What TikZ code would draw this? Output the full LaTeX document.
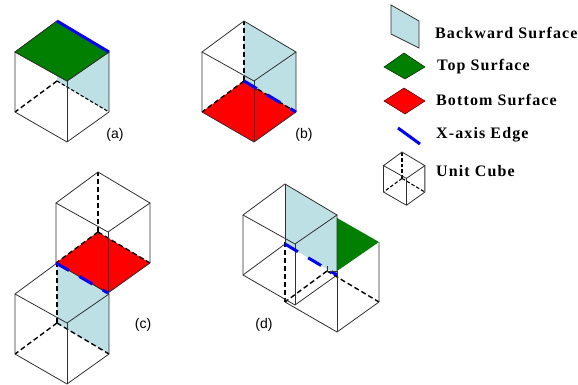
\documentclass[tikz,border=0pt]{standalone}
\usepackage{fontspec}
\setmainfont{Liberation Serif}
\newfontfamily\labelfont{Liberation Sans}
\newfontfamily\legfont[LetterSpace=7]{Liberation Serif}
\usetikzlibrary{positioning,calc}
\definecolor{backc}{HTML}{BCE0E4}
\definecolor{topc}{HTML}{007F00}
\definecolor{botc}{HTML}{FF0000}
\definecolor{edgec}{HTML}{0000FF}
\definecolor{wirec}{HTML}{303030}
\tikzset{
  wire/.style={draw=wirec, line width=0.8pt},
  hidden/.style={draw=black, line width=1.4pt, dash pattern=on 5pt off 3pt},
  smallhidden/.style={draw=black, line width=1.1pt, dash pattern=on 3.5pt off 2pt},
  backface/.style={fill=backc},
  topface/.style={fill=topc},
  botface/.style={fill=botc},
  xedge/.style={draw=edgec, line width=3pt},
  xdash/.style={xedge, dash pattern=on 15pt off 12pt},
  legtext/.style={font=\legfont\bfseries\fontsize{16}{18}\selectfont, anchor=west, inner sep=0pt},
  caselabel/.style={font=\labelfont\fontsize{14}{16}\selectfont, inner sep=0pt},
}
% corners of a cube: back top, left/right/front top, back, left/right/front bottom
\newcommand{\placecube}[4]{%
  \coordinate (#1bt) at ({#2},{#3});
  \coordinate (#1lt) at ({#2-42*#4},{#3+31*#4});
  \coordinate (#1rt) at ({#2+52*#4},{#3+31*#4});
  \coordinate (#1ft) at ({#2+10*#4},{#3+60*#4});
  \coordinate (#1bb) at ({#2},{#3+60*#4});
  \coordinate (#1lb) at ({#2-42*#4},{#3+91*#4});
  \coordinate (#1rb) at ({#2+52*#4},{#3+91*#4});
  \coordinate (#1fb) at ({#2+10*#4},{#3+121*#4});
}
\newcommand{\solidwire}[1]{%
  \draw[wire] (#1bt) -- (#1lt) -- (#1ft) -- (#1rt) -- (#1bt);
  \draw[wire] (#1lt) -- (#1lb) -- (#1fb) -- (#1rb) -- (#1rt);
  \draw[wire] (#1ft) -- (#1fb);
}
\newcommand{\hiddenwire}[1]{%
  \draw[hidden] (#1bb) -- (#1bt);
  \draw[hidden] (#1bb) -- (#1lb);
  \draw[hidden] (#1bb) -- (#1rb);
}

\begin{document}
\begin{tikzpicture}[x=1pt,y=-1pt]
\useasboundingbox (0,0) rectangle (578,385);
\placecube{a}{57}{21}{1}
\placecube{b}{244}{21}{1}
\placecube{cu}{98}{172}{1}
\placecube{cl}{57}{263}{1}
\placecube{dl}{285}{184}{1}
\placecube{dr}{327}{211}{1}
\placecube{k}{402}{152}{0.44}

% (a)
\fill[backface] (abt) -- (art) -- (arb) -- (abb) -- cycle;
\draw[hidden] (abb) -- (alb);
\draw[smallhidden] (abb) -- (arb);
\solidwire{a}
\fill[topface] (abt) -- (art) -- (aft) -- (alt) -- cycle;
\draw[wire] (abt) -- (alt) -- (aft) -- (art);
\draw[xedge] (abt) -- (art);
\node[caselabel] (alabel) at (115,135) {(a)};

% (b)
\fill[backface] (bbt) -- (brt) -- (brb) -- (bbb) -- cycle;
\fill[botface] (bbb) -- (brb) -- (bfb) -- (blb) -- cycle;
\hiddenwire{b}
\solidwire{b}
\draw[xdash] (bbb) -- (brb);
\node[caselabel] (blabel) at (304,135) {(b)};

% (c)
\fill[backface] (clbt) -- (clrt) -- (clrb) -- (clbb) -- cycle;
\hiddenwire{cl}
\solidwire{cl}
\fill[botface] (cubb) -- (curb) -- (cufb) -- (culb) -- cycle;
\hiddenwire{cu}
\solidwire{cu}
\draw[xdash] (culb) -- (cufb);
\node[caselabel] (clabel) at (143,325) {(c)};

% (d)
\draw[hidden] (drbb) -- (drlb);
\draw[hidden] (drbb) -- (drrb);
\draw[hidden] (drlt) -- (drlb);
\draw[wire] (drlb) -- (drfb) -- (drrb) -- (drrt);
\draw[wire] (drft) -- (drfb);
\fill[backface] (dlbt) -- (dlrt) -- (dlrb) -- (dlbb) -- cycle;
\fill[topface] (dlrt |- 0,218) -- (drrt) -- (drft) -- cycle;
\solidwire{dl}
\draw[wire] (dlbb) -- (dlbt);
\draw[wire] (dllb) -- (dlbb);
\draw[xdash] (dlbb) -- (dlrb);
\draw[wire] (drbb) ++(0,-5) -- (drbb) -- (drft);
\node[caselabel] (dlabel) at (264,325) {(d)};

% legend
\fill[backface] (391,5) -- (419,21) -- (419,48) -- (391,34) -- cycle;
\draw[draw=wirec, line width=0.8pt] (391,5) -- (419,21) -- (419,48) -- (391,34) -- cycle;
\draw[fill=topc, draw=black!70!topc, line width=0.5pt] (384,67) -- (404,53) -- (425,67) -- (405,79) -- cycle;
\draw[fill=botc, draw=black!70!botc, line width=0.5pt] (384,101) -- (404,88) -- (425,101) -- (405,114) -- cycle;
\coordinate (xa) at (398,128);
\coordinate (xb) at (420,144);
\draw[xedge] (xa) -- (xb);
\draw[smallhidden] (kbb) -- (kbt);
\draw[smallhidden] (kbb) -- (klb);
\draw[smallhidden] (kbb) -- (krb);
\solidwire{k}
\node[legtext] (lback) at (435,33) {Backward Surface};
\node[legtext] (ltop) at (437,67) {Top Surface};
\node[legtext] (lbot) at (436,100) {Bottom Surface};
\node[legtext] (lx) at (436,135) {X-axis Edge};
\node[legtext] (lcube) at (436,171) {Unit Cube};
\end{tikzpicture}
\end{document}
